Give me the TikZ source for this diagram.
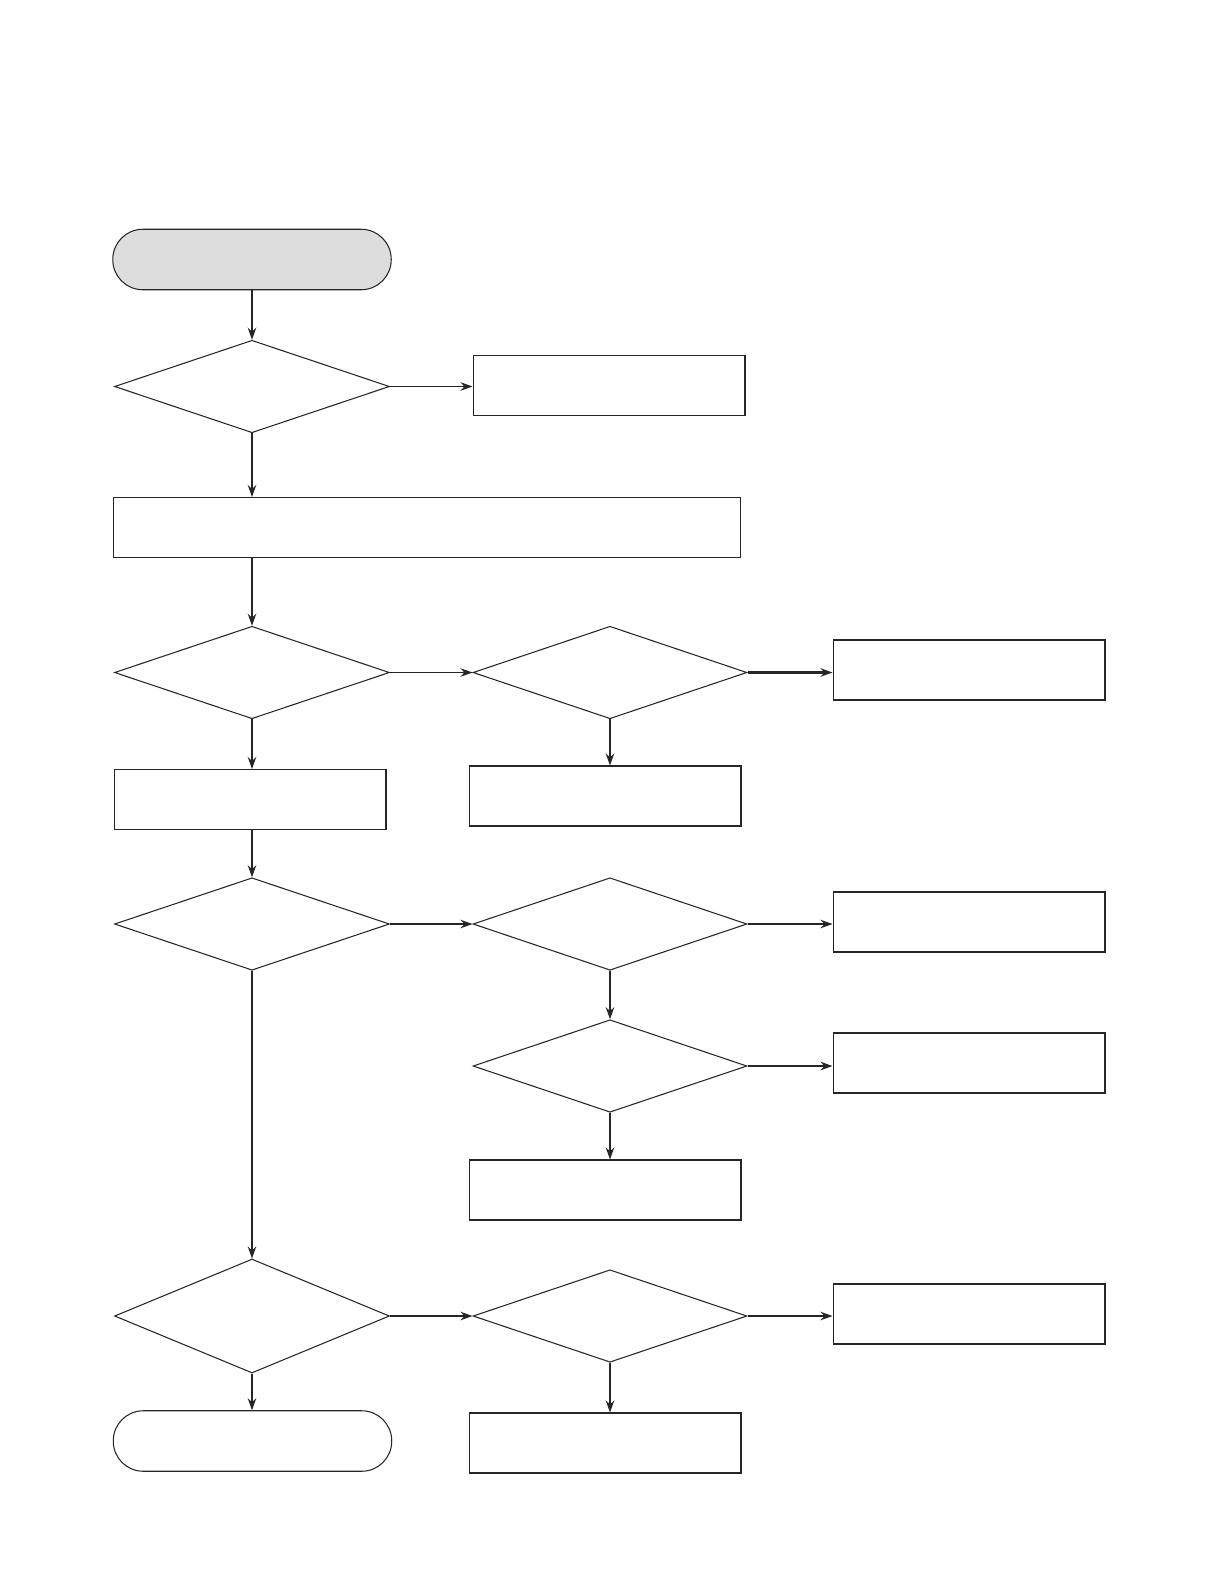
\documentclass[tikz,border=0pt]{standalone}
\usetikzlibrary{shapes.geometric,arrows.meta}
\begin{document}
\begin{tikzpicture}[x=0.02cm,y=-0.02cm,
  line width=0.6pt, draw=black!85,
  box/.style={draw=black!85, rectangle, inner sep=0pt, minimum width=5.44cm, minimum height=1.2cm},
  dec/.style={draw=black!85, diamond, inner sep=0pt, minimum width=5.5cm, minimum height=1.85cm},
  term/.style={draw=black!85, rectangle, rounded corners=0.6cm, inner sep=0pt, minimum width=5.57cm, minimum height=1.21cm},
  arr/.style={-{Stealth[length=0.24cm,width=0.17cm]}, draw=black!85},
  tarr/.style={arr, line width=1.3pt}]
\fill[white] (0,0) rectangle (1219,1587);
\useasboundingbox (0,0) rectangle (1219,1587);
\definecolor{termgray}{RGB}{221,221,221}
\node[term, fill=termgray] (start) at (252,259.5) {};
\node[dec] (d1) at (252,386.5) {};
\node[box] (bA) at (609,385.5) {};
\node[box, minimum width=12.56cm] (wide) at (427,527.5) {};
\node[dec] (d2) at (252,672.5) {};
\node[dec, minimum width=5.48cm] (d3) at (610,672.5) {};
\node[box] (bB) at (969,670) {};
\node[box] (bC) at (605,796) {};
\node[box] (bD) at (250,799.5) {};
\node[dec] (d4) at (252,924) {};
\node[dec, minimum width=5.48cm] (d5) at (610,924) {};
\node[box] (bE) at (969,922) {};
\node[dec, minimum width=5.48cm] (d6) at (610,1066) {};
\node[box] (bF) at (969,1063) {};
\node[box] (bG) at (605,1190) {};
\node[dec, minimum height=2.28cm] (d7) at (252,1316) {};
\node[dec, minimum width=5.48cm] (d8) at (610,1316) {};
\node[box] (bH) at (969,1314) {};
\node[term, fill=white] (end) at (252.5,1441) {};
\node[box] (bI) at (605,1443) {};

\draw[arr] (start.south |- start.south) -- (start.south |- d1.north);
\draw[arr] (d1.east) -- (d1.east -| bA.west);
\draw[arr] (d1.south) -- (d1.south |- wide.north);
\draw[arr] (d1.south |- wide.south) -- (d2.north);
\draw[arr] (d2.east) -- (d3.west);
\draw[tarr] (d3.east) -- (d3.east -| bB.west);
\draw[tarr] (d3.south) -- (d3.south |- bC.north);
\draw[arr] (d2.south) -- (d2.south |- bD.north);
\draw[arr] (d2.south |- bD.south) -- (d4.north);
\draw[arr] (d4.east) -- (d5.west);
\draw[arr] (d5.east) -- (d5.east -| bE.west);
\draw[tarr] (d5.south) -- (d6.north);
\draw[tarr] (d6.east) -- (d6.east -| bF.west);
\draw[tarr] (d6.south) -- (d6.south |- bG.north);
\draw[arr] (d4.south) -- (d7.north);
\draw[tarr] (d7.east) -- (d8.west);
\draw[arr] (d8.east) -- (d8.east -| bH.west);
\draw[tarr] (d8.south) -- (d8.south |- bI.north);
\draw[arr] (d7.south) -- (d7.south |- end.north);
\end{tikzpicture}
\end{document}
